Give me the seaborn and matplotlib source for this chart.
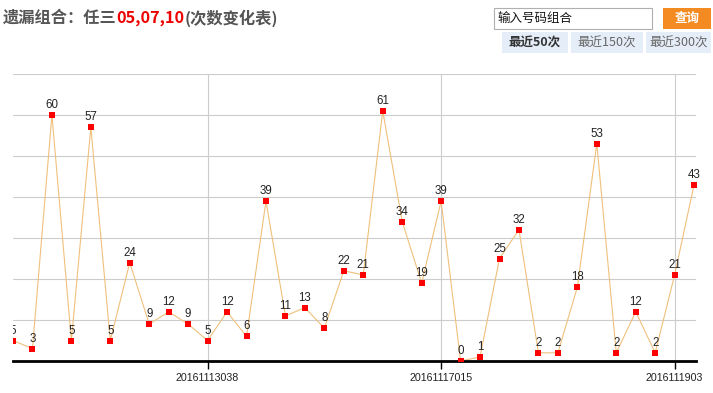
import matplotlib
matplotlib.use("Agg")
import matplotlib.pyplot as plt
from matplotlib.patches import Rectangle
import seaborn as sns
import pandas as pd

# ---- data ----
values = [5, 3, 60, 5, 57, 5, 24, 9, 12, 9, 5, 12, 6, 39, 11, 13, 8, 22, 21, 61,
          34, 19, 39, 0, 1, 25, 32, 2, 2, 18, 53, 2, 12, 2, 21, 43]
tick_idx = [10, 22, 34]
tick_labels = ["20161113038", "20161117015", "2016111903"]
title_parts = ["遗漏组合：任三", "05,07,10", "(次数变化表)"]
tab_labels = ["最近50次", "最近150次", "最近300次"]
input_placeholder = "输入号码组合"
button_label = "查询"

df = pd.DataFrame({"idx": list(range(len(values))), "val": values})

sns.set_style("white")
plt.rcParams["font.family"] = ["Liberation Sans", "Noto Sans CJK SC", "DejaVu Sans"]

W, H = 713, 393
fig = plt.figure(figsize=(W / 100, H / 100), dpi=100)

def fx(x):
    return x / W

def fy(y):
    return 1 - y / H

# axes: left 13px, bottom at y=361, top at y=74
ax_left, ax_top, ax_bottom = 13, 74, 361
unit = 19.46
xmax = 35.12
ax = fig.add_axes([fx(ax_left), fy(ax_bottom), (xmax * unit) / W, (ax_bottom - ax_top) / H])

sns.lineplot(data=df, x="idx", y="val", ax=ax, color="#efc07c", linewidth=0.8, zorder=2)
sns.scatterplot(data=df, x="idx", y="val", ax=ax, marker="s", color="#ff0000",
                s=21, linewidth=0, zorder=3)

for i, v in zip(df["idx"], df["val"]):
    ax.annotate(str(v), (i, v), xytext=(0, 5), textcoords="offset points",
                ha="center", va="baseline", fontsize=8.3, color="#222222",
                clip_on=(i == 0), annotation_clip=False, zorder=4)

ax.set_xlim(0, xmax)
ax.set_ylim(0, 70)
ax.set_yticks(range(0, 71, 10))
ax.set_xticks(tick_idx)
ax.set_xticklabels(tick_labels, fontsize=7.7, color="#222222")
ax.set_xlabel("")
ax.set_ylabel("")
ax.grid(True, color="#cccccc", linewidth=0.8)
ax.tick_params(axis="y", left=False, labelleft=False)
ax.tick_params(axis="x", bottom=True, direction="out", length=5.5, width=1,
               color="black", pad=3)
for s in ["top", "right", "left"]:
    ax.spines[s].set_visible(False)
ax.spines["bottom"].set_color("black")
ax.spines["bottom"].set_linewidth(2)
ax.set_axisbelow(True)

# ---- title (multi-coloured) ----
fig.canvas.draw()
renderer = fig.canvas.get_renderer()
colors = ["#555555", "#ee0000", "#555555"]
x = 3
for txt, c in zip(title_parts, colors):
    t = fig.text(fx(x), fy(18), txt, color=c, fontsize=11.7, fontweight="bold",
                 family=["Noto Sans CJK SC", "DejaVu Sans"], va="center", ha="left")
    bb = t.get_window_extent(renderer)
    x += bb.width

# ---- input box and button ----
fig.patches.append(Rectangle((fx(494), fy(29)), fx(652 - 494), (29 - 8) / H,
                             transform=fig.transFigure, facecolor="white",
                             edgecolor="#b0b0b0", linewidth=0.8))
fig.text(fx(497), fy(18.5), input_placeholder, fontsize=9, color="#111111",
         family=["Noto Sans CJK SC"], va="center", ha="left")
fig.patches.append(Rectangle((fx(663), fy(29)), fx(711 - 663), (29 - 8) / H,
                             transform=fig.transFigure, facecolor="#f38a22",
                             edgecolor="none"))
fig.text(fx(687), fy(18.5), button_label, fontsize=9, color="white",
         fontweight="bold", family=["Noto Sans CJK SC"], va="center", ha="center")

# ---- tabs ----
tabs = [(502, 568), (571, 643), (646, 711)]
for k, ((a, b), lab) in enumerate(zip(tabs, tab_labels)):
    fig.patches.append(Rectangle((fx(a), fy(53)), fx(b - a), (53 - 32) / H,
                                 transform=fig.transFigure, facecolor="#e5edf8",
                                 edgecolor="none"))
    fig.text(fx((a + b) / 2), fy(43), lab, fontsize=9,
             color="#333333" if k == 0 else "#666666",
             fontweight="bold" if k == 0 else "normal",
             family=["Noto Sans CJK SC"], va="center", ha="center")

fig.savefig("out.png", dpi=100)
